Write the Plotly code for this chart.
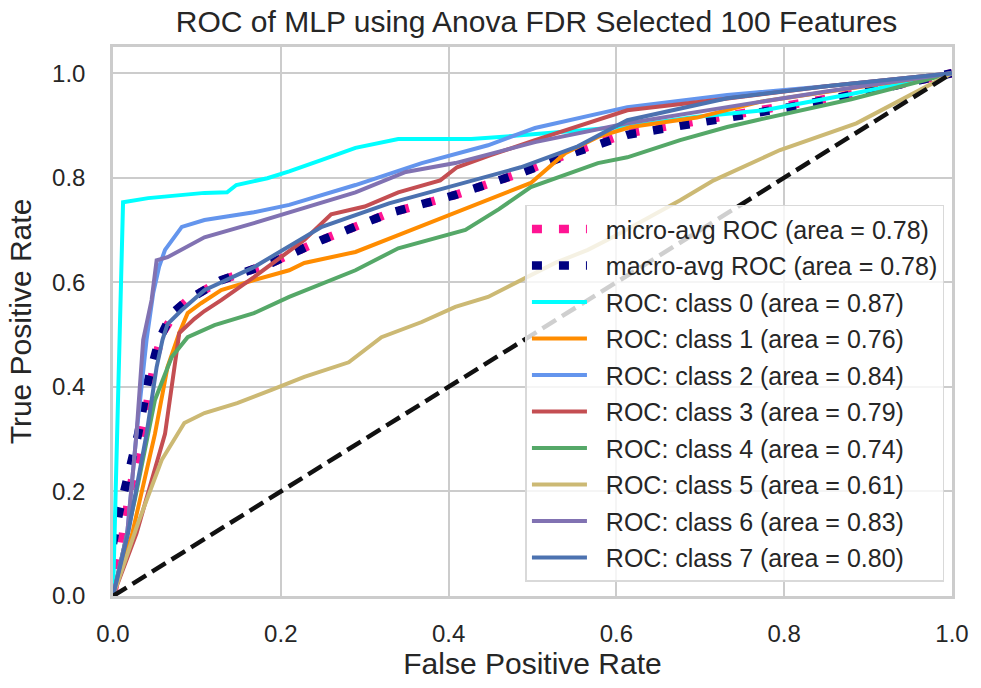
import plotly.graph_objects as go

# ROC curves (false positive rate / true positive rate) for the MLP classifier
micro_fpr = [0, 0.02, 0.04, 0.05, 0.059, 0.076, 0.089, 0.129, 0.189, 0.228, 0.249, 0.329, 0.408, 0.486, 0.55, 0.613, 0.771, 0.9, 1.0]
micro_tpr = [0, 0.20, 0.36, 0.451, 0.503, 0.547, 0.566, 0.604, 0.637, 0.667, 0.681, 0.732, 0.767, 0.809, 0.85, 0.885, 0.929, 0.965, 1.0]

macro_fpr = [0, 0.008, 0.03, 0.042, 0.055, 0.07, 0.089, 0.129, 0.189, 0.228, 0.249, 0.329, 0.408, 0.486, 0.55, 0.613, 0.807, 0.9, 1.0]
macro_tpr = [0.10, 0.165, 0.31, 0.413, 0.49, 0.54, 0.566, 0.604, 0.637, 0.667, 0.681, 0.732, 0.767, 0.809, 0.848, 0.882, 0.935, 0.965, 1.0]

class_fpr = [
    [0, 0.003, 0.008, 0.012, 0.042, 0.109, 0.136, 0.147, 0.184, 0.21, 0.249, 0.289, 0.34, 0.427, 0.486, 0.554, 0.613, 0.693, 0.776, 0.88, 1.0],
    [0, 0.023, 0.05, 0.065, 0.079, 0.089, 0.105, 0.129, 0.168, 0.21, 0.228, 0.289, 0.34, 0.42, 0.498, 0.539, 0.578, 0.617, 0.696, 0.771, 1.0],
    [0, 0.017, 0.028, 0.04, 0.048, 0.055, 0.062, 0.082, 0.109, 0.168, 0.21, 0.228, 0.289, 0.368, 0.447, 0.503, 0.613, 0.732, 0.85, 1.0],
    [0, 0.028, 0.062, 0.074, 0.079, 0.097, 0.109, 0.129, 0.168, 0.228, 0.26, 0.30, 0.34, 0.39, 0.41, 0.45, 0.503, 0.613, 0.716, 0.85, 1.0],
    [0, 0.026, 0.05, 0.07, 0.089, 0.121, 0.168, 0.21, 0.289, 0.34, 0.42, 0.46, 0.498, 0.578, 0.613, 0.676, 0.732, 0.767, 0.88, 1.0],
    [0, 0.03, 0.058, 0.07, 0.085, 0.109, 0.148, 0.189, 0.228, 0.281, 0.32, 0.368, 0.408, 0.447, 0.479, 0.527, 0.566, 0.6, 0.676, 0.716, 0.795, 0.886, 1.0],
    [0, 0.017, 0.028, 0.036, 0.046, 0.052, 0.065, 0.109, 0.168, 0.21, 0.228, 0.289, 0.349, 0.408, 0.503, 0.613, 0.732, 0.85, 1.0],
    [0, 0.018, 0.04, 0.052, 0.059, 0.065, 0.082, 0.109, 0.168, 0.228, 0.249, 0.329, 0.408, 0.486, 0.554, 0.613, 0.732, 0.85, 1.0],
]
class_tpr = [
    [0, 0.20, 0.55, 0.753, 0.761, 0.771, 0.772, 0.786, 0.799, 0.812, 0.834, 0.857, 0.874, 0.874, 0.881, 0.89, 0.898, 0.916, 0.929, 0.96, 1.0],
    [0, 0.12, 0.31, 0.438, 0.503, 0.541, 0.56, 0.585, 0.604, 0.623, 0.637, 0.658, 0.69, 0.74, 0.79, 0.847, 0.878, 0.897, 0.915, 0.945, 1.0],
    [0, 0.12, 0.31, 0.49, 0.58, 0.63, 0.662, 0.706, 0.719, 0.734, 0.748, 0.757, 0.786, 0.828, 0.862, 0.895, 0.935, 0.958, 0.975, 1.0],
    [0, 0.12, 0.31, 0.438, 0.503, 0.53, 0.545, 0.566, 0.61, 0.681, 0.73, 0.745, 0.772, 0.795, 0.82, 0.843, 0.872, 0.929, 0.948, 0.975, 1.0],
    [0, 0.184, 0.375, 0.457, 0.495, 0.518, 0.541, 0.572, 0.623, 0.665, 0.70, 0.74, 0.782, 0.828, 0.839, 0.872, 0.897, 0.91, 0.95, 1.0],
    [0, 0.14, 0.26, 0.293, 0.331, 0.35, 0.369, 0.394, 0.419, 0.447, 0.495, 0.524, 0.553, 0.572, 0.598, 0.637, 0.662, 0.69, 0.757, 0.795, 0.853, 0.904, 1.0],
    [0, 0.12, 0.31, 0.49, 0.566, 0.642, 0.648, 0.686, 0.713, 0.734, 0.742, 0.772, 0.811, 0.828, 0.868, 0.904, 0.935, 0.965, 1.0],
    [0, 0.12, 0.31, 0.438, 0.49, 0.52, 0.547, 0.585, 0.629, 0.686, 0.706, 0.751, 0.786, 0.82, 0.86, 0.91, 0.952, 0.975, 1.0],
]
class_auc = ["0.87", "0.76", "0.84", "0.79", "0.74", "0.61", "0.83", "0.80"]
micro_auc = "0.78"
macro_auc = "0.78"

class_colors = ["#00FFFF", "#FF8C00", "#6495ED", "#C44E52", "#55A868", "#CCB974", "#8172B2", "#4C72B0"]

x_ticks = [0.0, 0.2, 0.4, 0.6, 0.8, 1.0]
y_ticks = [0.0, 0.2, 0.4, 0.6, 0.8, 1.0]
tick_text = ["0.0", "0.2", "0.4", "0.6", "0.8", "1.0"]

TEXT = "#262626"
GRID = "#cccccc"
FONT = "Liberation Sans, Arial, sans-serif"
PAD = "\u00a0\u00a0"  # gap between legend handle and label

fig = go.Figure()

fig.add_trace(go.Scatter(
    x=micro_fpr, y=micro_tpr, mode="lines",
    name=f"{PAD}micro-avg ROC (area = {micro_auc})", legendgroup="micro",
    line=dict(color="deeppink", width=8.5, dash="10px,17px"),
))
fig.add_trace(go.Scatter(
    x=macro_fpr, y=macro_tpr, mode="lines",
    name=f"{PAD}macro-avg ROC (area = {macro_auc})", legendgroup="macro",
    line=dict(color="navy", width=8.5, dash="10px,17px"),
))
for i, (fx, ty) in enumerate(zip(class_fpr, class_tpr)):
    fig.add_trace(go.Scatter(
        x=fx, y=ty, mode="lines",
        name=f"{PAD}ROC: class {i} (area = {class_auc[i]})", legendgroup=f"c{i}",
        line=dict(color=class_colors[i], width=4),
    ))

# chance diagonal
fig.add_trace(go.Scatter(
    x=[0, 1], y=[0, 1], mode="lines", showlegend=False, hoverinfo="skip",
    line=dict(color="#111111", width=4.5, dash="16px,7px"),
))

axis_common = dict(
    showgrid=True, gridcolor=GRID, gridwidth=2,
    showline=True, linecolor=GRID, linewidth=2.5, mirror=True,
    zeroline=False, ticks="",
    tickfont=dict(family=FONT, size=24, color=TEXT),
    ticktext=tick_text,
)

fig.update_layout(
    width=981, height=688,
    margin=dict(l=113, r=24, t=47, b=92),
    paper_bgcolor="white", plot_bgcolor="white",
    title=dict(
        text="ROC of MLP using Anova FDR Selected 100 Features",
        x=0.547, xanchor="center", y=1 - 21 / 688, yanchor="middle",
        font=dict(family=FONT, size=30, color=TEXT),
    ),
    xaxis=dict(
        range=[0, 1], ticklabelstandoff=14, tickvals=x_ticks,
        title=dict(text="False Positive Rate", font=dict(family=FONT, size=30, color=TEXT), standoff=5),
        **axis_common,
    ),
    yaxis=dict(
        range=[0, 1.05], ticklabelstandoff=20, tickvals=y_ticks,
        title=dict(text="True Positive Rate", font=dict(family=FONT, size=30, color=TEXT), standoff=12),
        **axis_common,
    ),
    legend=dict(
        x=0.991, xanchor="right", y=0.026, yanchor="bottom",
        bgcolor="rgba(255,255,255,0.8)", bordercolor="#d9d9d9", borderwidth=1.5,
        font=dict(family=FONT, size=25, color=TEXT),
        tracegroupgap=1, itemwidth=55,
    ),
    showlegend=True,
)

fig.write_html("out.html")
